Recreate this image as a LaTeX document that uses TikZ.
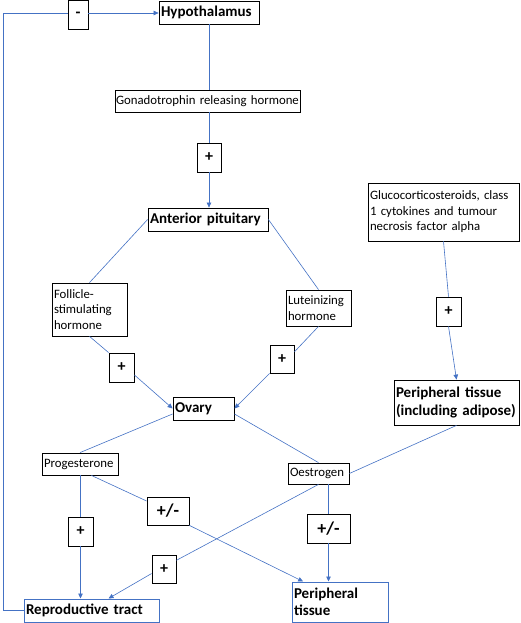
\documentclass[tikz,border=0pt]{standalone}
\usepackage{fontspec}
\setmainfont{Carlito}
\usepackage{tikz}
\usetikzlibrary{calc}
\usetikzlibrary{arrows.meta}
\usetikzlibrary{positioning}
\definecolor{linkblue}{RGB}{68,114,196}

\begin{document}
\begin{tikzpicture}[x=1pt,y=-1pt]
  % some styles
  \tikzset{
    box/.style={
      rectangle,
      draw=black,
      line width=0.8pt,
      fill=white,
      inner xsep=2pt,
      inner ysep=1pt,
      align=left,
      font=\fontsize{12.8}{15.5}\selectfont
    }
  }
  \tikzset{headbox/.style={box,font=\bfseries\fontsize{15}{17.5}\selectfont}}
  \tikzset{signbox/.style={box,align=center,font=\bfseries\fontsize{16}{18}\selectfont,minimum width=24pt,minimum height=29pt}}
  \tikzset{targetbox/.style={headbox,draw=linkblue,line width=1pt}}
  \tikzset{link/.style={draw=linkblue,line width=0.6pt}}
  \tikzset{activate/.style={link,-{Triangle[length=5pt,width=4.5pt]}}}

  \useasboundingbox (0,0) rectangle (520,623);

  % axis
  \node[headbox, text width=96pt, minimum height=23pt] (hyp) at (209,12.5) {Hypothalamus};
  \node[signbox, minimum width=20pt] (minus) at (78,14.5) {-};
  \node[box, inner xsep=1pt, text width=183pt, minimum height=22pt] (gnrh) at (207.5,101) {\mbox{Gonadotrophin releasing hormone}};
  \node[signbox] (plusgnrh) at (209,157.5) {+};
  \node[headbox, text width=116pt, minimum height=23pt] (pit) at (208,219.5) {Anterior pituitary};
  \node[box, text width=71pt, minimum height=53pt] (fsh) at (89.5,309.5) {Follicle-\\stimulating\\hormone};
  \node[box, text width=61pt, minimum height=36pt] (lh) at (318.5,308) {Luteinizing\\hormone};
  \node[signbox, minimum width=25pt] (plusfsh) at (121.5,367.5) {+};
  \node[signbox, minimum height=28pt] (pluslh) at (282,359) {+};
  \node[headbox, text width=57pt, minimum height=23pt] (ovary) at (203.5,408.5) {Ovary};

  % peripheral source
  \node[box, text width=147pt, minimum height=58pt] (gluc) at (443.5,212) {Glucocorticosteroids, class\\1 cytokines and tumour\\necrosis factor alpha};
  \node[signbox, minimum width=25pt] (plusgluc) at (448.5,311.5) {+};
  \node[headbox, text width=121pt, minimum height=45pt] (adipose) at (456.5,402.5) {Peripheral tissue\\(including adipose)};

  % steroids
  \node[box, text width=72pt, minimum height=22pt] (prog) at (80,464) {Progesterone};
  \node[box, text width=57pt, minimum height=21pt] (oest) at (318.5,473.5) {Oestrogen};
  \node[signbox, minimum width=25pt] (plusprog) at (80.5,531.5) {+};
  \node[signbox, font=\bfseries\fontsize{18}{20}\selectfont, minimum width=42pt, minimum height=28pt] (mixprog) at (168,511) {+/-};
  \node[signbox, font=\bfseries\fontsize{18}{20}\selectfont, minimum width=43pt] (mixoest) at (328.5,528.5) {+/-};
  \node[signbox, minimum height=28pt] (plusoest) at (164,569) {+};

  % targets
  \node[targetbox, text width=131pt, minimum height=23pt] (tract) at (91.5,610.5) {Reproductive tract};
  \node[targetbox, text width=92pt, minimum height=40pt] (tissue) at (340,602) {Peripheral\\tissue};

  \coordinate (fbtop) at (3,13);

  % connectors
  \draw[link] (hyp.south) -- (hyp.south |- gnrh.north);
  \draw[link] (plusgnrh.north |- gnrh.south) -- (plusgnrh.north);
  \draw[activate] (plusgnrh.south) -- (plusgnrh.south |- pit.north);
  \draw[link] (pit.west) -- (fsh.north);
  \draw[link] (pit.east) -- (lh.north);
  \draw[link] (fsh.south) -- (plusfsh.north west);
  \draw[activate] (plusfsh.-30) -- (ovary.west);
  \draw[link] (lh.south) -- (pluslh.30);
  \draw[activate] (pluslh.south west) -- (ovary.east);
  \draw[link] (gluc.south) -- (plusgluc.north);
  \draw[activate] (plusgluc.south) -- (adipose.north);
  \draw[link] (ovary.190) -- (prog.north);
  \draw[link] (ovary.-10) -- (oest.north);
  \draw[link] (adipose.south) -- (oest.east);
  \draw[link] (prog.south -| plusprog.north) -- (plusprog.north);
  \draw[activate] (plusprog.south) -- (plusprog.south |- tract.north);
  \draw[link] (prog.-45) -- (mixprog.155);
  \draw[activate] (mixprog.south east) -- ($(tissue.north west)!0.12!(tissue.north east)$);
  \draw[link] (oest.south -| mixoest.north) -- (mixoest.north);
  \draw[activate] (mixoest.south) -- (mixoest.south |- tissue.north);
  \draw[link] (oest.south) -- (plusoest.35);
  \draw[activate] (plusoest.200) -- ($(tract.north)+(17,0)$);
  \draw[link] (tract.west) -- (tract.west -| fbtop) -- (fbtop) -- (fbtop -| minus.west);
  \draw[activate] (fbtop -| minus.east) -- (fbtop -| hyp.west);

\end{tikzpicture}
\end{document}
